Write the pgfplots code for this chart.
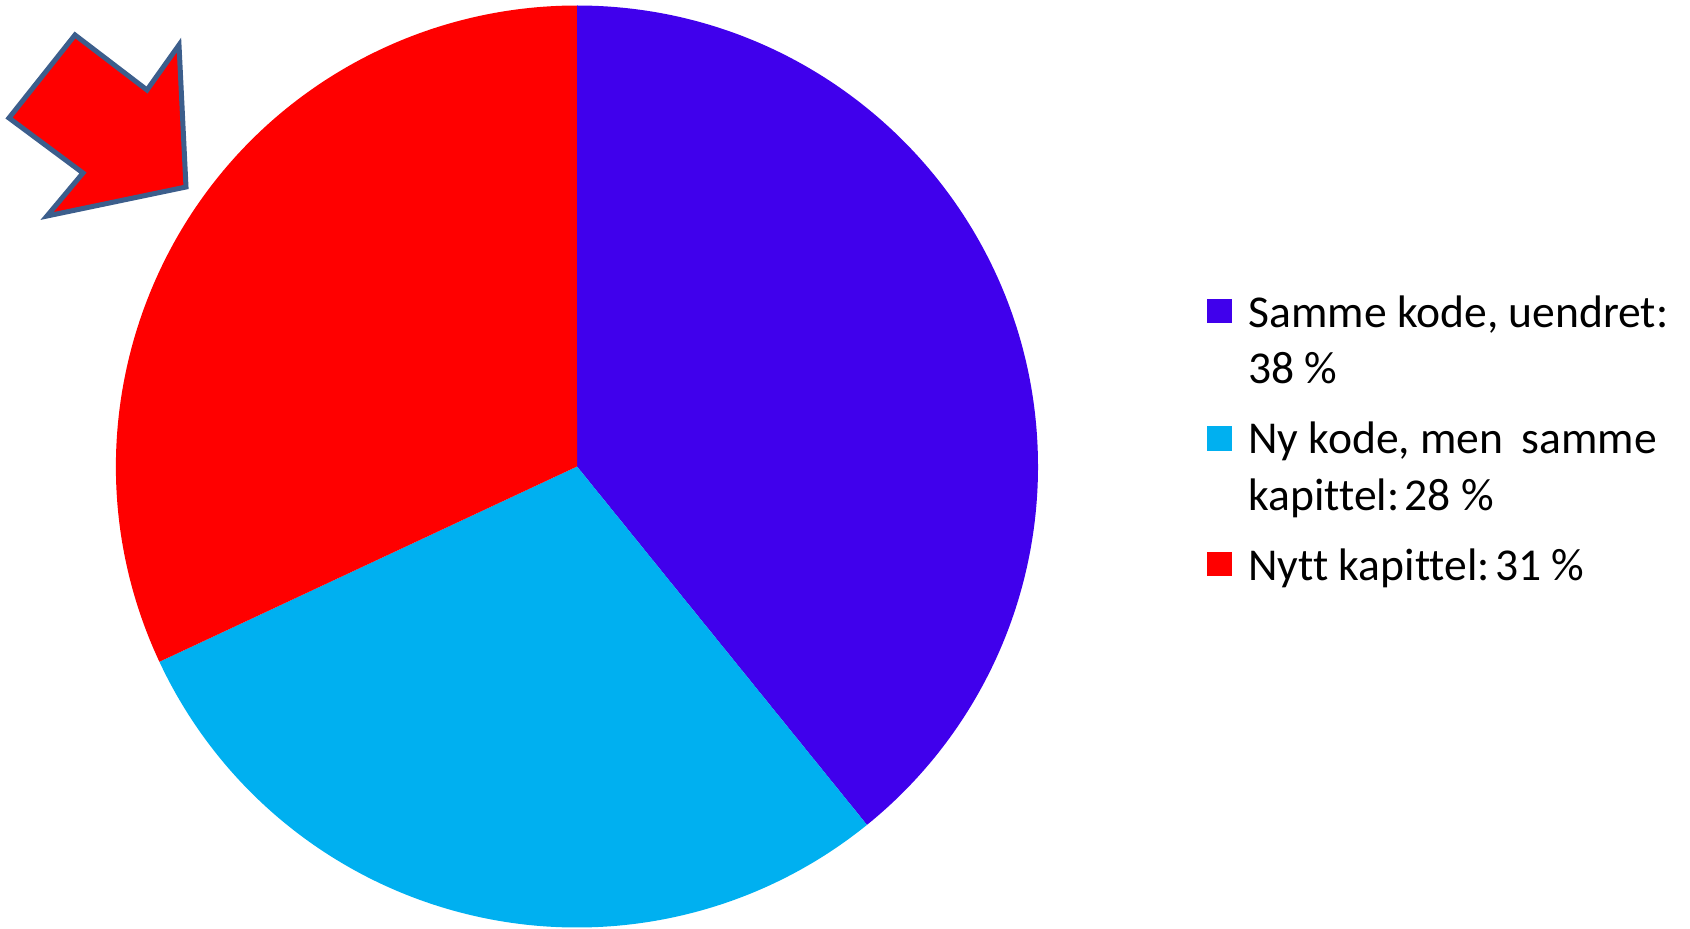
\documentclass[border=0pt]{standalone}
\usepackage{pgfplots}
\usepackage{pgfplotstable}
\usepackage{fontspec}
\setmainfont{Carlito}[Ligatures={NoCommon}]
\pgfplotsset{compat=1.18}
\definecolor{cBlue}{HTML}{4000EC}
\definecolor{cCyan}{HTML}{00B0F0}
\definecolor{cRed}{HTML}{FF0000}
\definecolor{cEdge}{HTML}{3C5E8C}
\pgfplotstableread{
label value
Samme 38
Ny 28
Nytt 31
}\piedata
\begin{document}
\begin{tikzpicture}
\pgfplotstablegetelem{0}{value}\of\piedata \let\va\pgfplotsretval
\pgfplotstablegetelem{1}{value}\of\piedata \let\vb\pgfplotsretval
\pgfplotstablegetelem{2}{value}\of\piedata \let\vc\pgfplotsretval
\pgfmathsetmacro{\tot}{\va+\vb+\vc}
\pgfmathsetmacro{\aA}{90}
\pgfmathsetmacro{\aB}{\aA-\va/\tot*360}
\pgfmathsetmacro{\aC}{\aB-\vb/\tot*360}
\pgfmathsetmacro{\aD}{\aC-\vc/\tot*360}
\begin{axis}[
  width=845pt, height=464pt, scale only axis,
  xmin=0, xmax=1690, ymin=0, ymax=928,
  hide axis, clip=false,
]
\addplot[draw=none] coordinates {(0,0) (1690,928)};
% pie sectors
\fill[cBlue] (axis cs:577,461.5) -- ++(\aA:230.5pt) arc[start angle=\aA, end angle=\aB, radius=230.5pt] -- cycle;
\fill[cCyan] (axis cs:577,461.5) -- ++(\aB:230.5pt) arc[start angle=\aB, end angle=\aC, radius=230.5pt] -- cycle;
\fill[cRed] (axis cs:577,461.5) -- ++(\aC:230.5pt) arc[start angle=\aC, end angle=\aD, radius=230.5pt] -- cycle;
% arrow
\draw[cEdge, line width=2.5pt, fill=cRed, line join=miter]
  (axis cs:75,893) -- (axis cs:9,810) -- (axis cs:83,755) -- (axis cs:47,712)
  -- (axis cs:186,741) -- (axis cs:179,883) -- (axis cs:147,838) -- cycle;
% legend
\fill[cBlue] (axis cs:1207,605) rectangle (axis cs:1232,629);
\fill[cCyan] (axis cs:1207,477) rectangle (axis cs:1232,502);
\fill[cRed] (axis cs:1207,352) rectangle (axis cs:1232,376);
\begin{scope}[every node/.style={anchor=base west, inner sep=0pt, font=\fontsize{22.8}{28}\selectfont}]
\node at (axis cs:1248,601) {Samme kode, uendret:};
\node at (axis cs:1248,545) {38 \%};
\node at (axis cs:1248,475) {Ny kode, men\hspace{0.4em}samme};
\node at (axis cs:1248,418) {kapittel:\hspace{0.12em}28 \%};
\node at (axis cs:1248,348) {Nytt kapittel:\hspace{0.12em}31 \%};
\end{scope}
\end{axis}
\pgfresetboundingbox
\path[use as bounding box] (current axis.south west) rectangle (current axis.north east);
\end{tikzpicture}
\end{document}
